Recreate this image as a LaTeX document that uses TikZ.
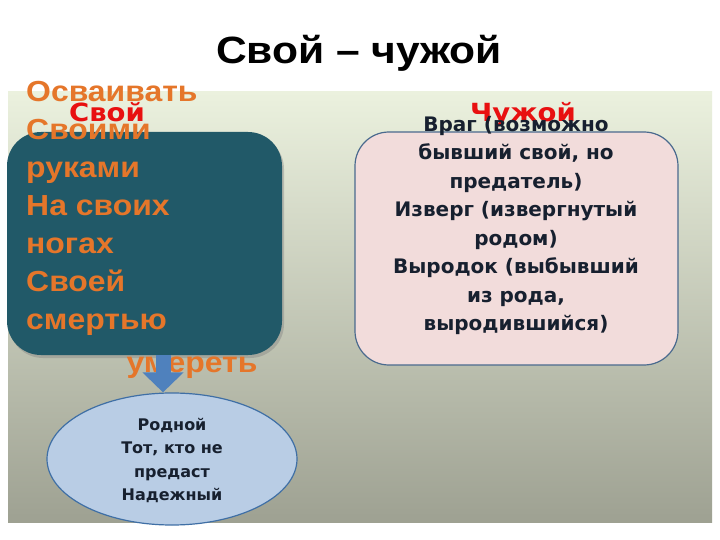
\documentclass[tikz,border=0pt]{standalone}
\usepackage{fontspec}
\setmainfont{Liberation Sans}
\newfontfamily\dejavu{DejaVu Sans}
\usetikzlibrary{shapes.geometric,shadows,arrows.meta}
\definecolor{bgtop}{HTML}{EBF1DE}
\definecolor{bgbot}{HTML}{9EA192}
\definecolor{tealbox}{HTML}{215968}
\definecolor{orangetxt}{HTML}{E5762A}
\definecolor{redtxt}{HTML}{E81010}
\definecolor{pinkbox}{HTML}{F2DCDB}
\definecolor{boxline}{HTML}{4A6A8E}
\definecolor{ovalfill}{HTML}{B9CDE5}
\definecolor{ovalline}{HTML}{3F6FA5}
\definecolor{arrowblue}{HTML}{4F81BD}
\definecolor{darktxt}{HTML}{17202F}
\begin{document}
\begin{tikzpicture}[x=1pt,y=-1pt,
    sbox/.style={fill=tealbox,rounded corners=34pt,minimum width=275pt,minimum height=223pt,
      drop shadow={opacity=.4,shadow xshift=2pt,shadow yshift=-3pt}},
    cbox/.style={fill=pinkbox,draw=boxline,line width=1.2pt,rounded corners=34pt,minimum width=323pt,minimum height=233pt},
    oval/.style={ellipse,fill=ovalfill,draw=ovalline,line width=1.2pt,minimum width=250pt,minimum height=132pt},
    otext/.style={text=orangetxt,font=\fontsize{29}{38}\selectfont\bfseries,align=left,inner sep=0pt,xscale=1.1,transform shape},
    rtext/.style={text=redtxt,font=\dejavu\fontsize{25}{28}\selectfont\bfseries,inner sep=0pt,xscale=1.1,transform shape},
    btext/.style={text=darktxt,font=\dejavu\fontsize{20}{28.5}\selectfont\bfseries,align=center,inner sep=0pt}]
	\useasboundingbox[fill=white](0,0) rectangle (720,540);
	\shade[top color=bgtop,bottom color=bgbot](8,92) rectangle (712,522);
	\node[font=\fontsize{38}{40}\selectfont\bfseries,xscale=1.12,transform shape](title) at (359,53){Свой – чужой};

	\node[sbox](svoibox) at (144.5,243.5){};
	\node[cbox](chuzhbox) at (516.5,248.5){};
	\node[oval](rod) at (172,459){};

	\node[otext,anchor=north west](osv) at (26,81){Осваивать\\Своими\\руками\\На своих\\ногах\\Своей\\смертью};
	\node[otext,anchor=base](umer) at (192,372){умереть};
	\coordinate (atop) at (163,355);
	\draw[arrowblue,line width=15pt,-{Triangle[width=40pt,length=20pt]}](atop)--(atop |- rod.north);

	\node[rtext,anchor=base](svoi) at (107,122){Свой};
	\node[rtext,anchor=base](chuzh) at (523,122){Чужой};
	\node[btext,anchor=north](vrag) at (516,116){Враг (возможно\\бывший свой, но\\предатель)\\Изверг (извергнутый\\родом)\\Выродок (выбывший\\из рода,\\выродившийся)};
	\node[btext,font=\dejavu\fontsize{16}{23.5}\selectfont\bfseries,anchor=north](rodtext) at (172,418){Родной\\Тот, кто не\\предаст\\Надежный};
\end{tikzpicture}
\end{document}
